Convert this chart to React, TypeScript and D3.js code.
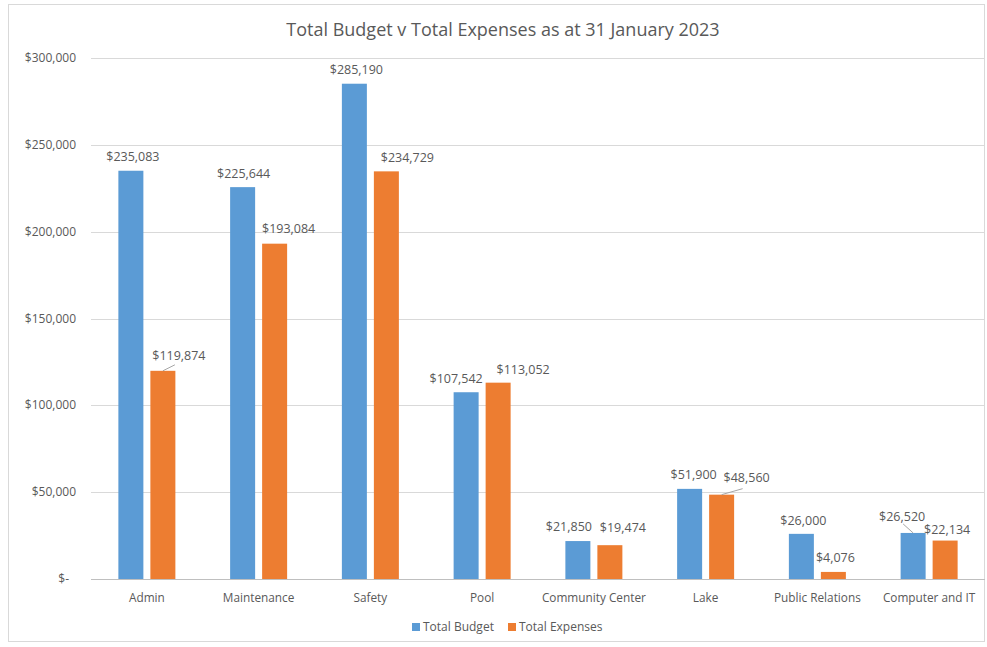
import { useMemo } from 'react';
import * as d3 from 'd3';

// Daten
const categories = ['Admin', 'Maintenance', 'Safety', 'Pool', 'Community Center', 'Lake', 'Public Relations', 'Computer and IT'];
const totalBudget = [235083, 225644, 285190, 107542, 21850, 51900, 26000, 26520];
const totalExpenses = [119874, 193084, 234729, 113052, 19474, 48560, 4076, 22134];
const yTicks = [0, 50000, 100000, 150000, 200000, 250000, 300000];

// Label-Versatz (dx zur Balkenmitte, dy zur Balkenoberkante)
const budgetLabelOffset = [[2, -10], [1, -9], [2, -10], [-10, -9], [-9, -10], [4, -10], [2, -9], [-11, -12]];
const expenseLabelOffset = [[16, -11], [14, -11], [21, -9], [25, -9], [13, -13], [25, -13], [2, -10], [2, -7]];
// Führungslinien: [Serie, Index, Endpunkt dx, dy]
const leaderLines: [string, number, number, number][] = [
  ['expense', 0, 12, -6],
  ['expense', 5, 21, -6],
  ['budget', 7, -10, -9],
];

const W = 987;
const H = 647;
const BLUE = '#5B9BD5';
const ORANGE = '#ED7D31';
const TEXT = '#595959';
const FONT = '"Open Sans", "Noto Sans", sans-serif';

const fmt = d3.format(',');
const money = (v: number) => (v === 0 ? '$-' : `$${fmt(v)}`);

export default function App() {
  const x = useMemo(() => d3.scaleBand<string>().domain(categories).range([91, 985]).padding(0), []);
  const y = useMemo(() => d3.scaleLinear().domain([0, 300000]).range([579, 58]), []);

  const barW = 25;
  const half = 3.5;
  const center = (c: string) => (x(c) as number) + x.bandwidth() / 2;

  const series = [
    { key: 'budget', values: totalBudget, color: BLUE, side: -1, offsets: budgetLabelOffset },
    { key: 'expense', values: totalExpenses, color: ORANGE, side: 1, offsets: expenseLabelOffset },
  ];

  const barCenter = (c: string, side: number) => center(c) + side * (half + barW / 2);

  return (
    <svg width={W} height={H} style={{ position: 'absolute', left: 0, top: 0, background: '#fff' }} fontFamily={FONT}>
      <rect x={0} y={0} width={W} height={H} fill="#fff" />
      <rect x={8.5} y={4.5} width={976} height={637} fill="#fff" stroke="#d9d9d9" strokeWidth={1} />

      <text x={503} y={36} textAnchor="middle" fontSize={18} fill={TEXT}>
        Total Budget v Total Expenses as at 31 January 2023
      </text>

      {/* Gitternetz und y-Achse */}
      {yTicks.map((t) => (
        <g key={t}>
          <line x1={91} x2={985} y1={Math.round(y(t)) + 0.5} y2={Math.round(y(t)) + 0.5} stroke={t === 0 ? '#bfbfbf' : '#d9d9d9'} />
          <text x={t === 0 ? 69 : 76} y={y(t) + 4} textAnchor="end" fontSize={12} fill={TEXT}>
            {money(t)}
          </text>
        </g>
      ))}

      {/* Balken */}
      {series.map((s) =>
        categories.map((c, i) => (
          <rect
            key={s.key + c}
            x={barCenter(c, s.side) - barW / 2}
            y={y(s.values[i])}
            width={barW}
            height={y(0) - y(s.values[i])}
            fill={s.color}
          />
        ))
      )}

      {/* Führungslinien */}
      {leaderLines.map(([k, i, dx, dy]) => {
        const s = series.find((d) => d.key === k)!;
        const cx = barCenter(categories[i], s.side);
        const top = y(s.values[i]);
        return <line key={k + i} x1={cx} y1={top} x2={cx + dx} y2={top + dy} stroke="#a6a6a6" strokeWidth={1} />;
      })}

      {/* Datenbeschriftungen */}
      {series.map((s) =>
        categories.map((c, i) => (
          <text
            key={'l' + s.key + c}
            x={barCenter(c, s.side) + s.offsets[i][0]}
            y={y(s.values[i]) + s.offsets[i][1]}
            textAnchor="middle"
            fontSize={12.5}
            fill={TEXT}
          >
            {money(s.values[i])}
          </text>
        ))
      )}

      {/* Kategorien */}
      {categories.map((c) => (
        <text key={'c' + c} x={center(c)} y={602} textAnchor="middle" fontSize={11.8} fill={TEXT}>
          {c}
        </text>
      ))}

      {/* Legende */}
      <rect x={412} y={623} width={8} height={8} fill={BLUE} />
      <text x={423} y={631} fontSize={12} fill={TEXT}>Total Budget</text>
      <rect x={508} y={623} width={8} height={8} fill={ORANGE} />
      <text x={519} y={631} fontSize={12} fill={TEXT}>Total Expenses</text>
    </svg>
  );
}
